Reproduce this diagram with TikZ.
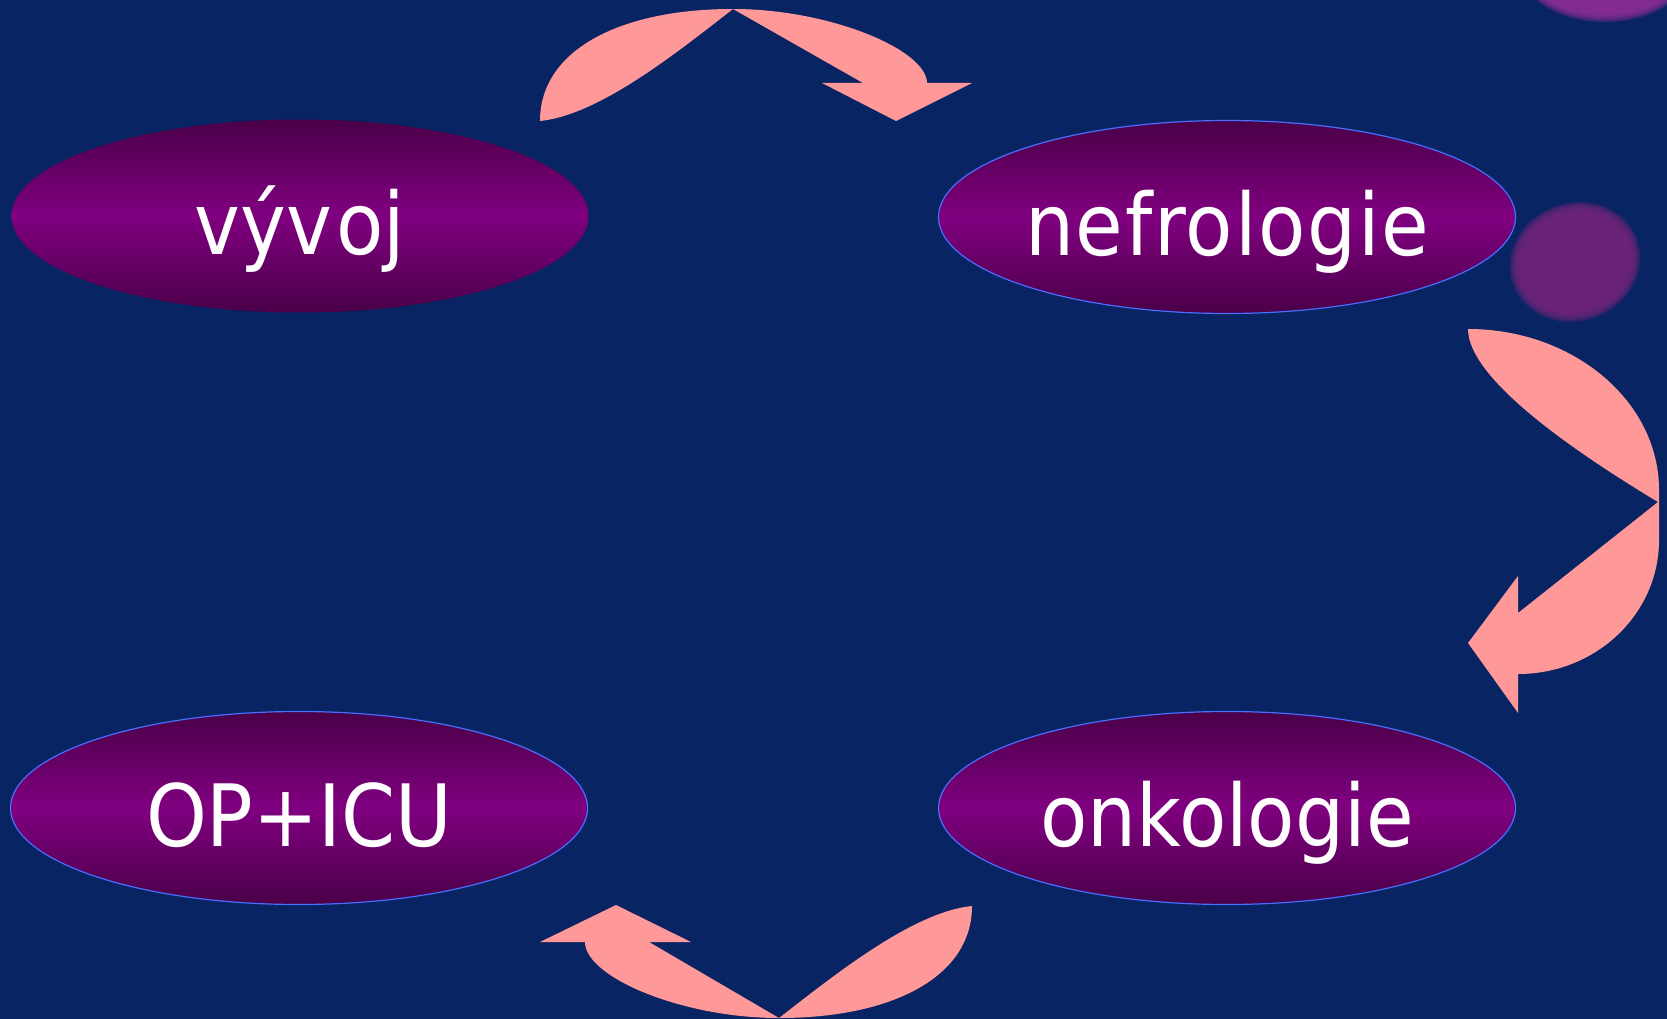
\documentclass[tikz,border=0pt]{standalone}
\usepackage{fontspec}
\setmainfont[FakeStretch=0.9]{DejaVu Sans}
\usetikzlibrary{shapes.geometric}
\definecolor{bg}{RGB}{9,36,99}
\definecolor{pinkarrow}{RGB}{255,153,153}
\definecolor{elldark}{RGB}{74,0,72}
\definecolor{ellmid}{RGB}{128,0,128}
\definecolor{ellline}{RGB}{70,110,255}
\definecolor{blobA}{RGB}{150,45,150}
\definecolor{blobB}{RGB}{118,35,123}
\begin{document}
\begin{tikzpicture}[x=1pt,y=-1pt,
  oval/.style={ellipse, minimum width=577pt, minimum height=193pt, inner sep=0pt,
    top color=elldark, bottom color=elldark, middle color=ellmid,
    draw=ellline, line width=1.2pt, text=white,
    font=\fontsize{86}{86}\selectfont, text height=76pt, text depth=0pt},
  blockarrow/.style={fill=pinkarrow}]
\useasboundingbox (0,0) rectangle (1667,1019);
\fill[bg] (0,0) rectangle (1667,1019);

% blurred blobs
\foreach \k in {0,...,4}{
  \fill[blobA, opacity=0.35] (1605,-30) ellipse [x radius=84-2*\k, y radius=52-2*\k];
  \fill[blobB, opacity=0.35, rotate around={20:(1575,262)}] (1575,262) ellipse [x radius=66-2*\k, y radius=59-2*\k];
}

% nodes
\node[oval, draw=none] (vyvoj) at (300,216) {výv\kern4pt oj};
\node[oval] (nefro) at (1227,217) {\addfontfeature{LetterSpace=2}nefrologie};
\node[oval] (op) at (299,808) {OP+ICU};
\node[oval] (onko) at (1227,808) {onkologie};

% top curved arrow (vyvoj -> nefrologie)
\fill[blockarrow] (540,121) .. controls (540,50) and (620,9) .. (733,9)
  .. controls (830,9) and (927,50) .. (927,83) -- (972,83) -- (896,121)
  -- (822,83) -- (863,83) -- (733,9)
  .. controls (680,50) and (600,115) .. (540,121) -- cycle;

% right curved arrow (nefrologie -> onkologie)
\fill[blockarrow] (1468,329) .. controls (1573,329) and (1659,401) .. (1659,490)
  -- (1659,540) .. controls (1659,614) and (1596,674) .. (1518,674)
  -- (1518,713) -- (1468,643) -- (1518,576) -- (1518,613) -- (1658,502)
  .. controls (1580,455) and (1468,380) .. (1468,329) -- cycle;

% bottom curved arrow (onkologie -> OP+ICU)
\fill[blockarrow] (972,906) .. controls (972,977) and (892,1018) .. (779,1018)
  .. controls (682,1018) and (585,977) .. (585,942) -- (540,942) -- (616,905)
  -- (691,942) -- (649,942) -- (779,1018)
  .. controls (832,977) and (912,912) .. (972,906) -- cycle;
\end{tikzpicture}
\end{document}
